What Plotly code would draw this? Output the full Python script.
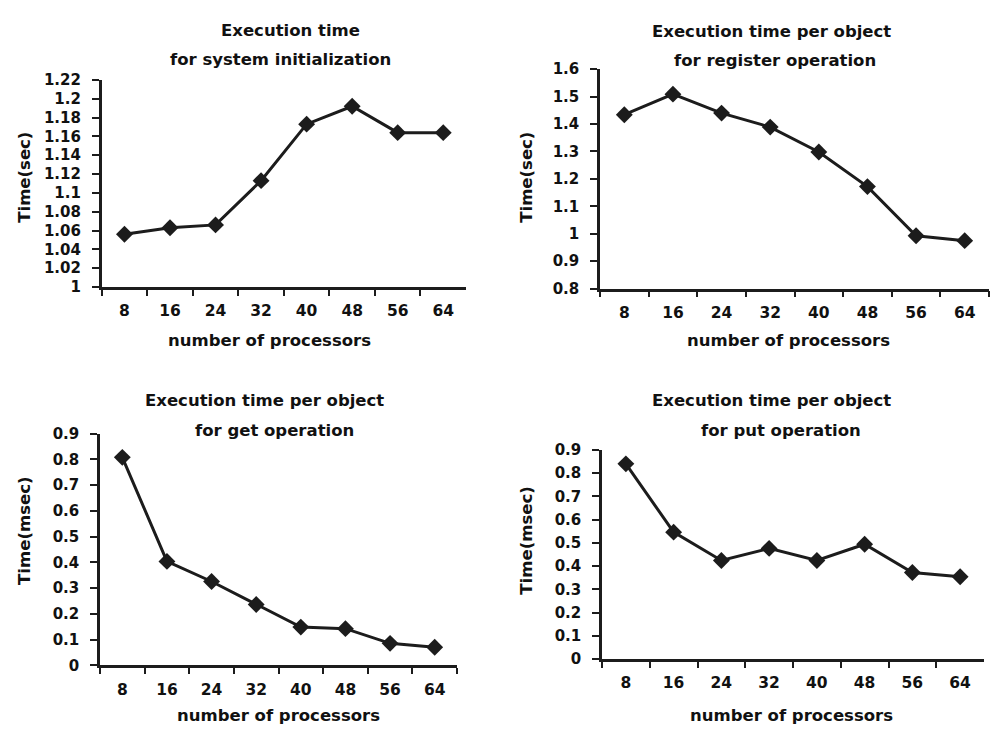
import plotly.graph_objects as go

processors = ["8", "16", "24", "32", "40", "48", "56", "64"]

init_time_sec = [1.056, 1.063, 1.066, 1.113, 1.173, 1.192, 1.164, 1.164]
register_time_sec = [1.434, 1.509, 1.440, 1.389, 1.298, 1.172, 0.993, 0.975]
get_time_msec = [0.808, 0.404, 0.326, 0.237, 0.149, 0.143, 0.086, 0.071]
put_time_msec = [0.840, 0.546, 0.424, 0.476, 0.424, 0.494, 0.372, 0.354]

init_ticks = [1.0, 1.02, 1.04, 1.06, 1.08, 1.1, 1.12, 1.14, 1.16, 1.18, 1.2, 1.22]
init_ticktext = ["1", "1.02", "1.04", "1.06", "1.08", "1.1", "1.12", "1.14", "1.16", "1.18", "1.2", "1.22"]
reg_ticks = [0.8, 0.9, 1.0, 1.1, 1.2, 1.3, 1.4, 1.5, 1.6]
reg_ticktext = ["0.8", "0.9", "1", "1.1", "1.2", "1.3", "1.4", "1.5", "1.6"]
ms_ticks = [0, 0.1, 0.2, 0.3, 0.4, 0.5, 0.6, 0.7, 0.8, 0.9]
ms_ticktext = ["0", "0.1", "0.2", "0.3", "0.4", "0.5", "0.6", "0.7", "0.8", "0.9"]

titles = [
    ["Execution time", "for system initialization"],
    ["Execution time per object", "for register operation"],
    ["Execution time per object", "for get operation"],
    ["Execution time per object", "for put operation"],
]
x_title = "number of processors"
y_titles = ["Time(sec)", "Time(sec)", "Time(msec)", "Time(msec)"]

W, H = 990, 734
FONT = "DejaVu Sans"
INK = "#1c1c1c"
TXT = "#111111"

panels = [
    dict(data=init_time_sec, ticks=init_ticks, ticktext=init_ticktext, rng=[1.0, 1.22],
         px=(101.7, 466), py=(72.7, 285),
         t1=(290, 21.7), t2=(280, 51.7), xt=(269, 340), yt=(25, 173)),
    dict(data=register_time_sec, ticks=reg_ticks, ticktext=reg_ticktext, rng=[0.8, 1.6],
         px=(600, 989), py=(61.7, 286.7),
         t1=(771, 23.3), t2=(775, 53.3), xt=(788, 340), yt=(527, 173)),
    dict(data=get_time_msec, ticks=ms_ticks, ticktext=ms_ticktext, rng=[0, 0.9],
         px=(100, 457), py=(435.3, 673),
         t1=(264, 401.3), t2=(274, 432), xt=(278, 724), yt=(25, 535)),
    dict(data=put_time_msec, ticks=ms_ticks, ticktext=ms_ticktext, rng=[0, 0.9],
         px=(602, 984), py=(452, 666.3),
         t1=(771, 401.3), t2=(781, 432), xt=(791, 724), yt=(527, 545)),
]

fig = go.Figure()
annotations = []
layout = {}


def fx(px):
    return px / W


def fy(py):
    return 1 - py / H


for i, p in enumerate(panels):
    n = "" if i == 0 else str(i + 1)
    fig.add_trace(go.Scatter(
        x=processors, y=p["data"], mode="lines+markers",
        xaxis="x" + n, yaxis="y" + n,
        line=dict(color=INK, width=3),
        marker=dict(symbol="diamond", size=13, color=INK),
        showlegend=False, hoverinfo="x+y",
    ))
    layout["xaxis" + n] = dict(
        domain=[fx(p["px"][0]), fx(p["px"][1])],
        anchor="y" + n, type="category", range=[-0.5, 7.5],
        tickson="boundaries", ticks="outside", ticklen=6, tickwidth=2, tickcolor=INK,
        showline=True, linewidth=2.5, linecolor=INK, showgrid=False, zeroline=False,
        tickfont=dict(family=FONT, size=15.5, color=TXT, weight="bold"),
        ticklabelstandoff=8, fixedrange=True,
    )
    layout["yaxis" + n] = dict(
        domain=[fy(p["py"][1]), fy(p["py"][0])],
        anchor="x" + n, range=p["rng"],
        tickmode="array", tickvals=p["ticks"], ticktext=p["ticktext"],
        ticks="outside", ticklen=7, tickwidth=2, tickcolor=INK,
        showline=True, linewidth=2.5, linecolor=INK, showgrid=False, zeroline=False,
        tickfont=dict(family=FONT, size=15, color=TXT, weight="bold"),
        ticklabelstandoff=8, fixedrange=True,
    )
    for (tx, ty), txt in zip([p["t1"], p["t2"]], titles[i]):
        annotations.append(dict(
            text=txt, x=fx(tx), y=fy(ty), xref="paper", yref="paper",
            xanchor="center", yanchor="middle", showarrow=False,
            font=dict(family=FONT, size=16.5, color=TXT, weight="bold"),
        ))
    annotations.append(dict(
        text=x_title, x=fx(p["xt"][0]), y=fy(p["xt"][1]), xref="paper", yref="paper",
        xanchor="center", yanchor="middle", showarrow=False,
        font=dict(family=FONT, size=16.5, color=TXT, weight="bold"),
    ))
    annotations.append(dict(
        text=y_titles[i], x=fx(p["yt"][0]), y=fy(p["yt"][1]), xref="paper", yref="paper",
        xanchor="center", yanchor="middle", showarrow=False, textangle=-90,
        font=dict(family=FONT, size=16.5, color=TXT, weight="bold"),
    ))

fig.update_layout(
    width=W, height=H,
    margin=dict(l=0, r=0, t=0, b=0),
    paper_bgcolor="white", plot_bgcolor="white",
    annotations=annotations,
    **layout,
)

fig.write_html(
    "out.html",
    config={"displayModeBar": False},
    post_script="document.body.style.margin='0px';",
)
